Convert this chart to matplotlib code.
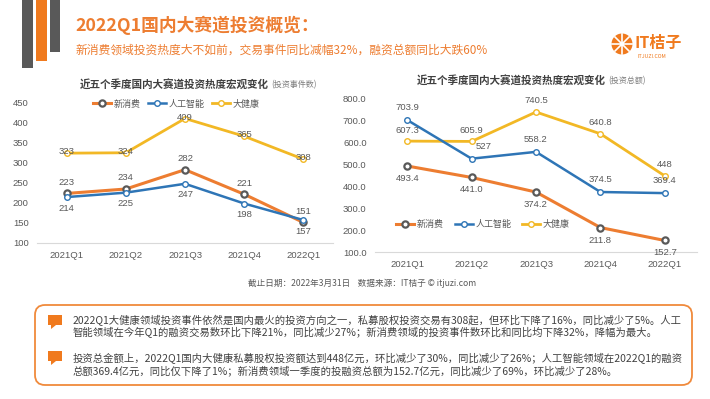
import numpy as np
import matplotlib
matplotlib.use("Agg")
from matplotlib import pyplot as plt
from matplotlib import patches

plt.rcParams['font.family'] = ['Noto Sans CJK SC', 'DejaVu Sans']

quarters = ["2021Q1", "2021Q2", "2021Q3", "2021Q4", "2022Q1"]
series_names = ["新消费", "人工智能", "大健康"]

# 投资事件数
events_consumer = [223, 234, 282, 221, 151]
events_ai = [214, 225, 247, 198, 157]
events_health = [323, 324, 409, 365, 308]

# 投资总额 (亿元)
amount_consumer = [493.4, 441.0, 374.2, 211.8, 152.7]
amount_ai = [703.9, 527, 558.2, 374.5, 369.4]
amount_health = [607.3, 605.9, 740.5, 640.8, 448]

ORANGE = '#ED7D31'
BLUE = '#2E75B6'
GOLD = '#F2B825'
DARK = '#404040'
GREY = '#595959'
NUM_FONT = ['Liberation Sans', 'DejaVu Sans']

W, H = 710, 399


def px_axes(fig, x0, y0, x1, y1):
    return fig.add_axes([x0 / W, 1 - y1 / H, (x1 - x0) / W, (y1 - y0) / H])


def style_axes(ax):
    for side in ['top', 'right', 'left']:
        ax.spines[side].set_visible(False)
    ax.spines['bottom'].set_color('#D9D9D9')
    ax.tick_params(length=0, labelsize=6.8, colors=GREY, pad=6)
    ax.set_xlim(-0.5, 4.5)
    ax.set_xticks(range(len(quarters)))
    ax.set_xticklabels(quarters)
    for t in ax.get_xticklabels() + ax.get_yticklabels():
        t.set_family(NUM_FONT)


def draw_lines(ax, consumer, ai, health):
    x = np.arange(len(quarters))
    ax.plot(x, consumer, color=ORANGE, lw=2.2, marker='o', ms=4.5, mfc='white', mec=GREY, mew=1.6,
            label=series_names[0], zorder=3)
    ax.plot(x, ai, color=BLUE, lw=1.8, marker='o', ms=4, mfc='white', mec=BLUE, mew=1,
            label=series_names[1], zorder=3)
    ax.plot(x, health, color=GOLD, lw=2, marker='o', ms=4, mfc='white', mec=GOLD, mew=1,
            label=series_names[2], zorder=2)


def label(ax, xi, yi, text, dx=0, dy=0, va='center'):
    ax.annotate(text, (xi, yi), xytext=(dx, dy), textcoords='offset points',
                ha='center', va=va, fontsize=6.8, color=GREY, zorder=5, family=NUM_FONT)


def main():
    fig = plt.figure(figsize=(7.1, 3.99), dpi=100)
    fig.patch.set_facecolor('white')

    ov = fig.add_axes([0, 0, 1, 1], zorder=0)
    ov.set_xlim(0, W)
    ov.set_ylim(H, 0)
    ov.axis('off')

    # decoration bars
    ov.add_patch(patches.Rectangle((22, 0), 11, 68, color=GREY, lw=0))
    ov.add_patch(patches.Rectangle((36, 0), 11, 61, color='#F07A1E', lw=0))
    ov.add_patch(patches.Rectangle((50, 0), 10, 52, color=GREY, lw=0))

    ov.text(75, 25, "2022Q1国内大赛道投资概览：", fontsize=12.8, weight='bold', color=ORANGE, va='center')
    ov.text(76, 50, "新消费领域投资热度大不如前，交易事件同比减幅32%，融资总额同比大跌60%",
            fontsize=8.5, color=ORANGE, va='center')

    # logo
    ov.add_patch(patches.Circle((622, 44), 10.5, color='#F07A1E', lw=0))
    for ang in [0, 45, 90, 135]:
        a = np.deg2rad(ang)
        ov.plot([622 - 10 * np.cos(a), 622 + 10 * np.cos(a)],
                [44 - 10 * np.sin(a), 44 + 10 * np.sin(a)], color='white', lw=1.2)
    ov.add_patch(patches.Circle((622, 44), 2, color='white', lw=0))
    ov.text(635, 43, "IT桔子", fontsize=11.5, color='#F07A1E', va='center', weight='bold')
    ov.text(637, 57, "ITJUZI.COM", fontsize=3.8, color='#F07A1E', va='center')

    # chart titles
    ov.text(80, 85, "近五个季度国内大赛道投资热度宏观变化", fontsize=7.6, weight='bold', color=DARK, va='center')
    ov.text(271, 85, "(投资事件数)", fontsize=5.8, color='#7F7F7F', va='center')
    ov.text(417, 81, "近五个季度国内大赛道投资热度宏观变化", fontsize=7.6, weight='bold', color=DARK, va='center')
    ov.text(608, 81, "(投资总额)", fontsize=5.8, color='#7F7F7F', va='center')

    ov.text(362, 283, "截止日期：2022年3月31日    数据来源：IT桔子 © itjuzi.com",
            fontsize=6.2, color=GREY, ha='center', va='center')

    # comment box
    ov.add_patch(patches.FancyBboxPatch((35, 305), 657, 80, boxstyle='round,pad=0,rounding_size=10',
                                        ec='#F08A3C', fc='white', lw=1.3))
    for top in [315, 351]:
        ov.add_patch(patches.Rectangle((48, top), 14, 10, color='#F07A1E', lw=0))
        ov.add_patch(patches.Polygon([(51, top + 10), (56, top + 10), (51, top + 14)],
                                     closed=True, color='#F07A1E', lw=0))
    lines = [
        (321, "2022Q1大健康领域投资事件依然是国内最火的投资方向之一，私募股权投资交易有308起，但环比下降了16%，同比减少了5%。人工"),
        (332.5, "智能领域在今年Q1的融资交易数环比下降21%，同比减少27%；新消费领域的投资事件数环比和同比均下降32%，降幅为最大。"),
        (359, "投资总金额上，2022Q1国内大健康私募股权投资额达到448亿元，环比减少了30%，同比减少了26%；人工智能领域在2022Q1的融资"),
        (370.5, "总额369.4亿元，同比仅下降了1%；新消费领域一季度的投融资总额为152.7亿元，同比减少了69%，环比减少了28%。"),
    ]
    for y, s in lines:
        ov.text(73, y, s, fontsize=7.45, color=DARK, va='center')

    # left chart: event counts
    ax1 = px_axes(fig, 37, 102, 333, 243)
    ax1.set_ylim(100, 450)
    ax1.set_yticks(range(100, 451, 50))
    style_axes(ax1)
    draw_lines(ax1, events_consumer, events_ai, events_health)
    for i in range(len(quarters)):
        label(ax1, i, events_consumer[i], str(events_consumer[i]), dy=8)
        label(ax1, i, events_ai[i], str(events_ai[i]), dy=-8)
        label(ax1, i, events_health[i], str(events_health[i]), dy=1)
    ax1.legend(loc='center', bbox_to_anchor=(0.47, 0.985), ncol=3, frameon=False, fontsize=6.5,
               handlelength=2, columnspacing=0.8, handletextpad=0.3, labelcolor=GREY)

    # right chart: amounts
    ax2 = px_axes(fig, 375, 99, 697, 252)
    ax2.set_ylim(100, 800)
    ax2.set_yticks(range(100, 801, 100))
    ax2.set_yticklabels([f"{v:.1f}" for v in range(100, 801, 100)])
    style_axes(ax2)
    draw_lines(ax2, amount_consumer, amount_ai, amount_health)
    for i in range(len(quarters)):
        label(ax2, i, amount_consumer[i], f"{amount_consumer[i]:.1f}", dy=-9)
        dx = 9 if i == 1 else 0
        label(ax2, i, amount_ai[i], str(amount_ai[i]), dx=dx, dy=9)
        label(ax2, i, amount_health[i], str(amount_health[i]), dy=8)
    ax2.legend(loc='center left', bbox_to_anchor=(0.04, 0.18), ncol=3, frameon=False, fontsize=6.5,
               handlelength=2, columnspacing=1.2, handletextpad=0.3, labelcolor=GREY)

    fig.savefig("out.png", dpi=100)


if __name__ == "__main__":
    main()
